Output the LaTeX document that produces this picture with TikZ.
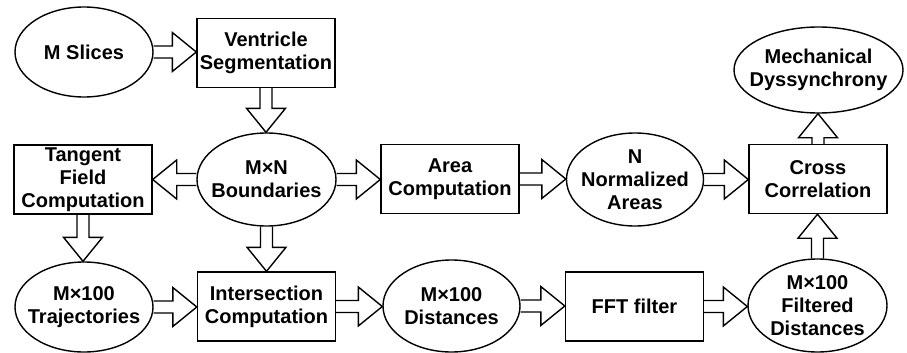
\documentclass[tikz,border=0pt]{standalone}
\usepackage{fontspec}
\setmainfont{Liberation Sans}
\usetikzlibrary{shapes.geometric,calc}
\tikzset{
  txt/.style={align=center, font=\bfseries\fontsize{20}{23}\selectfont},
  box/.style={txt, draw, line width=1.4pt, rectangle, minimum width=138pt, minimum height=69pt, inner sep=0pt},
  ell/.style={txt, draw, line width=1.4pt, ellipse, minimum width=138pt, minimum height=93pt, inner xsep=-15pt, inner ysep=-10pt},
  fat/.style={line width=1.4pt, to path={
    let \p1=(\tikztostart), \p2=(\tikztotarget),
        \n1={atan2(\y2-\y1,\x2-\x1)}, \n2={veclen(\x2-\x1,\y2-\y1)} in
    {[shift={(\p1)}, rotate=\n1]
      (0pt,-6pt) -- ({\n2*1pt-24pt},-6pt) -- ({\n2*1pt-24pt},-19.5pt) -- ({\n2*1pt},0pt)
      -- ({\n2*1pt-24pt},19.5pt) -- ({\n2*1pt-24pt},6pt) -- (0pt,6pt)}
    (\tikztotarget)}}
}
\begin{document}
\begin{tikzpicture}[x=1pt,y=-1pt]
\useasboundingbox (0,0) rectangle (907,353);
% row 1
\node[ell, minimum height=90pt] (ms) at (84,52) {M Slices};
\node[box] (vs) at (266,53) {Ventricle\\Segmentation};
\node[ell, minimum width=169pt, minimum height=86pt] (md) at (818.5,70) {Mechanical\\Dyssynchrony};
% row 2
\node[box] (tb) at (83,179.5) {Tangent\\Field\\Computation};
\node[ell, minimum width=139pt] (mn) at (266.5,179.5) {M×N\\Boundaries};
\node[box] (ac) at (450,179) {Area\\Computation};
\node[ell, minimum width=137pt] (na) at (635,179.5) {N\\Normalized\\Areas};
\node[box] (cc) at (818,179) {Cross\\Correlation};
% row 3
\node[ell, minimum height=90pt] (tr) at (84,307) {M×100\\Trajectories};
\node[box] (ic) at (266.5,306.5) {Intersection\\Computation};
\node[ell, minimum width=137pt, minimum height=92pt] (di) at (451.5,306) {M×100\\Distances};
\node[box] (ff) at (634.5,306.5) {FFT filter};
\node[ell, minimum width=139pt] (fd) at (817.5,305.5) {M×100\\Filtered\\Distances};
% connectors
\draw[fat] (ms.east) to (ms.east -| vs.west);
\draw[fat] (vs.south) to (vs.south |- mn.north);
\draw[fat] (mn.west) to (mn.west -| tb.east);
\draw[fat] (mn.east) to (mn.east -| ac.west);
\draw[fat] (ac.east) to (ac.east -| na.west);
\draw[fat] (na.east) to (na.east -| cc.west);
\draw[fat] (cc.north) to (cc.north |- md.south);
\draw[fat] (mn.south) to (mn.south |- ic.north);
\draw[fat] (tb.south) to (tb.south |- tr.north);
\draw[fat] (tr.east) to (tr.east -| ic.west);
\draw[fat] (ic.east) to (ic.east -| di.west);
\draw[fat] (di.east) to (di.east -| ff.west);
\draw[fat] (ff.east) to (ff.east -| fd.west);
\draw[fat] (fd.north) to (fd.north |- cc.south);
\end{tikzpicture}
\end{document}
